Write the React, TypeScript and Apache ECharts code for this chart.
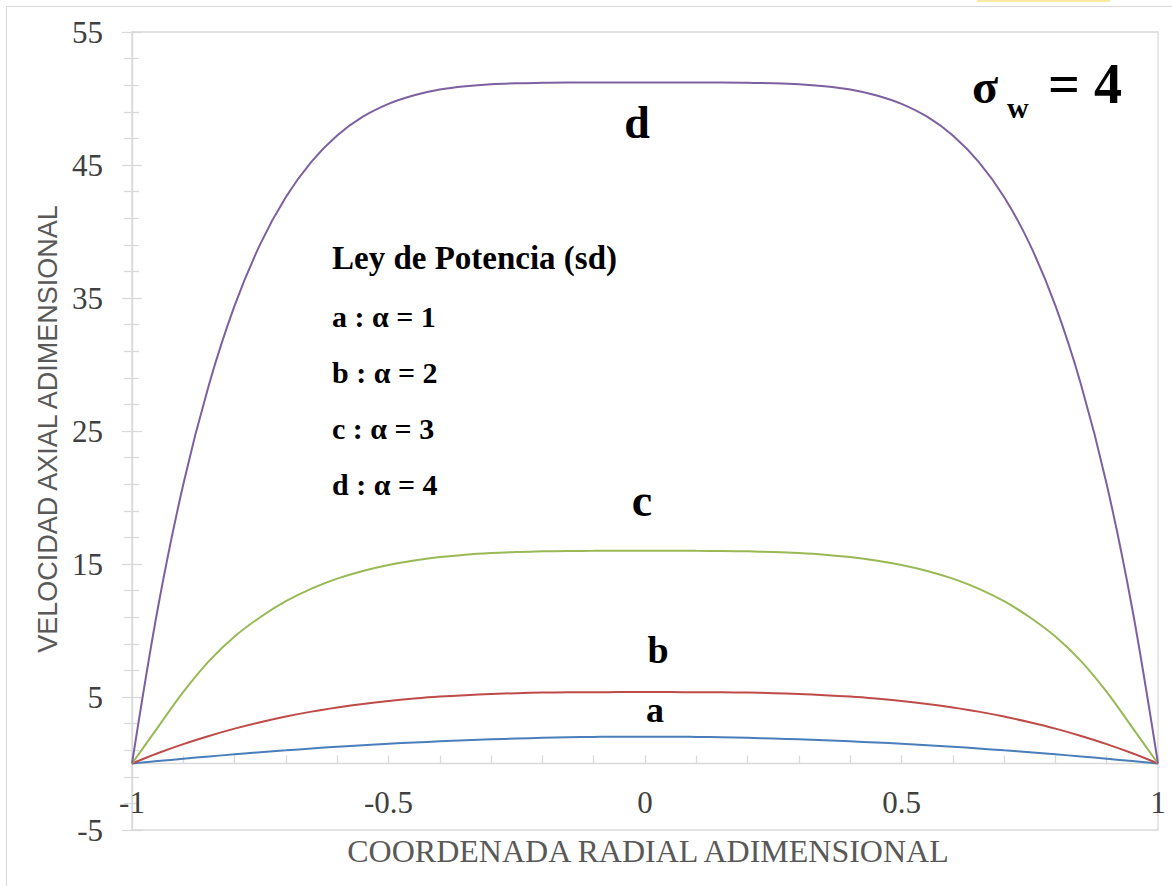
import React, { useEffect, useRef } from "react";
import * as echarts from "echarts";

// Radial coordinate (dimensionless), wall to wall in steps of 0.05
const radial = [
  -1, -0.95, -0.9, -0.85, -0.8, -0.75, -0.7, -0.65, -0.6, -0.55, -0.5, -0.45, -0.4, -0.35,
  -0.3, -0.25, -0.2, -0.15, -0.1, -0.05, 0, 0.05, 0.1, 0.15, 0.2, 0.25, 0.3, 0.35, 0.4,
  0.45, 0.5, 0.55, 0.6, 0.65, 0.7, 0.75, 0.8, 0.85, 0.9, 0.95, 1,
];

// Axial velocity profiles (dimensionless), power-law fluid, sigma_w = 4
const velA = [
  0, 0.18, 0.36, 0.53, 0.69, 0.85, 0.99, 1.13, 1.26, 1.38, 1.49, 1.58, 1.67, 1.75,
  1.82, 1.88, 1.93, 1.97, 2.0, 2.02, 2.02, 2.02, 2.0, 1.97, 1.93, 1.88, 1.82, 1.75, 1.67,
  1.58, 1.49, 1.38, 1.26, 1.13, 0.99, 0.85, 0.69, 0.53, 0.36, 0.18, 0,
];
const velB = [
  0, 0.77, 1.46, 2.07, 2.62, 3.1, 3.53, 3.9, 4.21, 4.48, 4.7, 4.88, 5.03, 5.14,
  5.22, 5.29, 5.33, 5.35, 5.36, 5.37, 5.37, 5.37, 5.36, 5.35, 5.33, 5.29, 5.22, 5.14, 5.03,
  4.88, 4.7, 4.48, 4.21, 3.9, 3.53, 3.1, 2.62, 2.07, 1.46, 0.77, 0,
];
const velC = [
  0, 2.7, 5.38, 7.7, 9.55, 11.0, 12.2, 13.15, 13.9, 14.48, 14.93, 15.27, 15.52, 15.7,
  15.82, 15.9, 15.95, 15.98, 15.99, 16.0, 16.0, 16.0, 15.99, 15.98, 15.95, 15.9, 15.82, 15.7, 15.52,
  15.27, 14.93, 14.48, 13.9, 13.15, 12.2, 11.0, 9.55, 7.7, 5.38, 2.7, 0,
];
const velD = [
  0, 11.6, 21.0, 28.48, 34.42, 39.05, 42.6, 45.26, 47.22, 48.63, 49.6, 50.25, 50.68, 50.93,
  51.08, 51.15, 51.18, 51.2, 51.2, 51.2, 51.2, 51.2, 51.2, 51.2, 51.18, 51.15, 51.08, 50.93, 50.68,
  50.25, 49.6, 48.63, 47.22, 45.26, 42.6, 39.05, 34.42, 28.48, 21.0, 11.6, 0,
];

const seriesNames = ["a", "b", "c", "d"];
const seriesValues = [velA, velB, velC, velD];
const seriesColors = ["#4a7ebb", "#be4b48", "#98b954", "#7d60a0"];

// Axis ranges
const xMin = -1;
const xMax = 1;
const xStep = 0.5;
const yMin = -5;
const yMax = 55;
const yStep = 10;

const legendTitle = "Ley de Potencia (sd)";
const legendLines = ["a : α = 1", "b : α = 2", "c : α = 3", "d : α = 4"];

const gridColor = "#d9d9d9";
const labelColor = "#404040";
const titleColor = "#595959";
const serif = "Liberation Serif";

// Plot area in pixels
const gridLeft = 132;
const gridTop = 32;
const gridRight = 14;
const gridBottom = 56;
const chartHeight = 886;

export default function App() {
  const ref = useRef<HTMLDivElement>(null);

  useEffect(() => {
    if (!ref.current) return;
    const chart = echarts.init(ref.current, undefined, { renderer: "svg" });

    // The radial axis sits on the zero velocity line
    const plotHeight = chartHeight - gridTop - gridBottom;
    const zeroShift = (plotHeight * (0 - yMin)) / (yMax - yMin);

    const series = seriesNames.map((name, k) => ({
      type: "line",
      name,
      data: radial.map((r, i) => [r, seriesValues[k][i]]),
      smooth: 0.35,
      showSymbol: false,
      symbol: "none",
      lineStyle: { color: seriesColors[k], width: 2 },
      itemStyle: { color: seriesColors[k] },
      z: 3,
    }));

    const boldText = (
      text: string,
      x: number,
      y: number,
      size: number,
      align: string = "left"
    ) => ({
      type: "text",
      x,
      y,
      z: 10,
      silent: true,
      style: {
        text,
        fill: "#000",
        fontFamily: serif,
        fontWeight: "bold",
        fontSize: size,
        align,
        verticalAlign: "middle",
      },
    });

    const yBase = {
      type: "value",
      min: yMin,
      max: yMax,
      interval: yStep,
      position: "left",
      splitLine: { show: false },
      minorSplitLine: { show: false },
    };
    const tickStyle = { color: gridColor, width: 1.3 };

    chart.setOption({
      animation: false,
      backgroundColor: "#ffffff",
      grid: {
        left: gridLeft,
        right: gridRight,
        top: gridTop,
        bottom: gridBottom,
        show: true,
        borderColor: gridColor,
        borderWidth: 1.3,
      },
      xAxis: {
        type: "value",
        min: xMin,
        max: xMax,
        interval: xStep,
        position: "bottom",
        offset: -zeroShift,
        axisLine: { onZero: false, lineStyle: tickStyle },
        axisTick: { show: true, inside: true, length: 8, lineStyle: tickStyle },
        minorTick: { show: true, splitNumber: 5, length: 8, lineStyle: tickStyle },
        splitLine: { show: false },
        minorSplitLine: { show: false },
        axisLabel: {
          margin: 23,
          color: labelColor,
          fontFamily: serif,
          fontSize: 31,
        },
      },
      yAxis: [
        {
          ...yBase,
          axisLine: { show: true, onZero: false, lineStyle: tickStyle },
          axisTick: { show: true, length: 10, lineStyle: tickStyle },
          minorTick: { show: true, splitNumber: 5, length: 8, lineStyle: tickStyle },
          axisLabel: {
            margin: 29,
            color: labelColor,
            fontFamily: serif,
            fontSize: 31,
          },
        },
        {
          ...yBase,
          offset: 0,
          axisLine: { show: false, onZero: false },
          axisTick: { show: true, inside: true, length: 10, lineStyle: tickStyle },
          minorTick: { show: true, splitNumber: 5, length: 7, lineStyle: tickStyle },
          axisLabel: { show: false },
        },
      ],
      series,
      graphic: [
        {
          type: "rect",
          silent: true,
          z: -1,
          shape: { x: 6.5, y: 6.5, width: 1200, height: 1000 },
          style: { fill: "none", stroke: gridColor, lineWidth: 1 },
        },
        {
          type: "rect",
          silent: true,
          shape: { x: 977, y: 0, width: 133, height: 2 },
          style: { fill: "#fbeaa6" },
        },
        {
          type: "text",
          x: 48,
          y: 429,
          rotation: Math.PI / 2,
          silent: true,
          style: {
            text: "VELOCIDAD AXIAL ADIMENSIONAL",
            fill: titleColor,
            fontFamily: "Liberation Sans",
            fontSize: 27,
            align: "center",
            verticalAlign: "middle",
          },
        },
        {
          type: "text",
          x: 648,
          y: 851,
          silent: true,
          style: {
            text: "COORDENADA RADIAL ADIMENSIONAL",
            fill: titleColor,
            fontFamily: serif,
            fontSize: 32,
            align: "center",
            verticalAlign: "middle",
          },
        },
        boldText("σ", 972, 86.8, 48),
        boldText("w", 1007, 107.9, 30),
        boldText("= 4", 1048, 84.1, 56),
        boldText("d", 637, 122.5, 46, "center"),
        boldText("c", 642, 500.5, 46, "center"),
        boldText("b", 658, 650.2, 38, "center"),
        boldText("a", 655, 709.8, 36, "center"),
        boldText(legendTitle, 332, 258, 33),
        ...legendLines.map((t, i) => boldText(t, 332, 316 + i * 56, 30)),
      ],
    });

    return () => chart.dispose();
  }, []);

  return (
    <div
      ref={ref}
      style={{ position: "absolute", left: 0, top: 0, width: 1172, height: 886 }}
    />
  );
}
